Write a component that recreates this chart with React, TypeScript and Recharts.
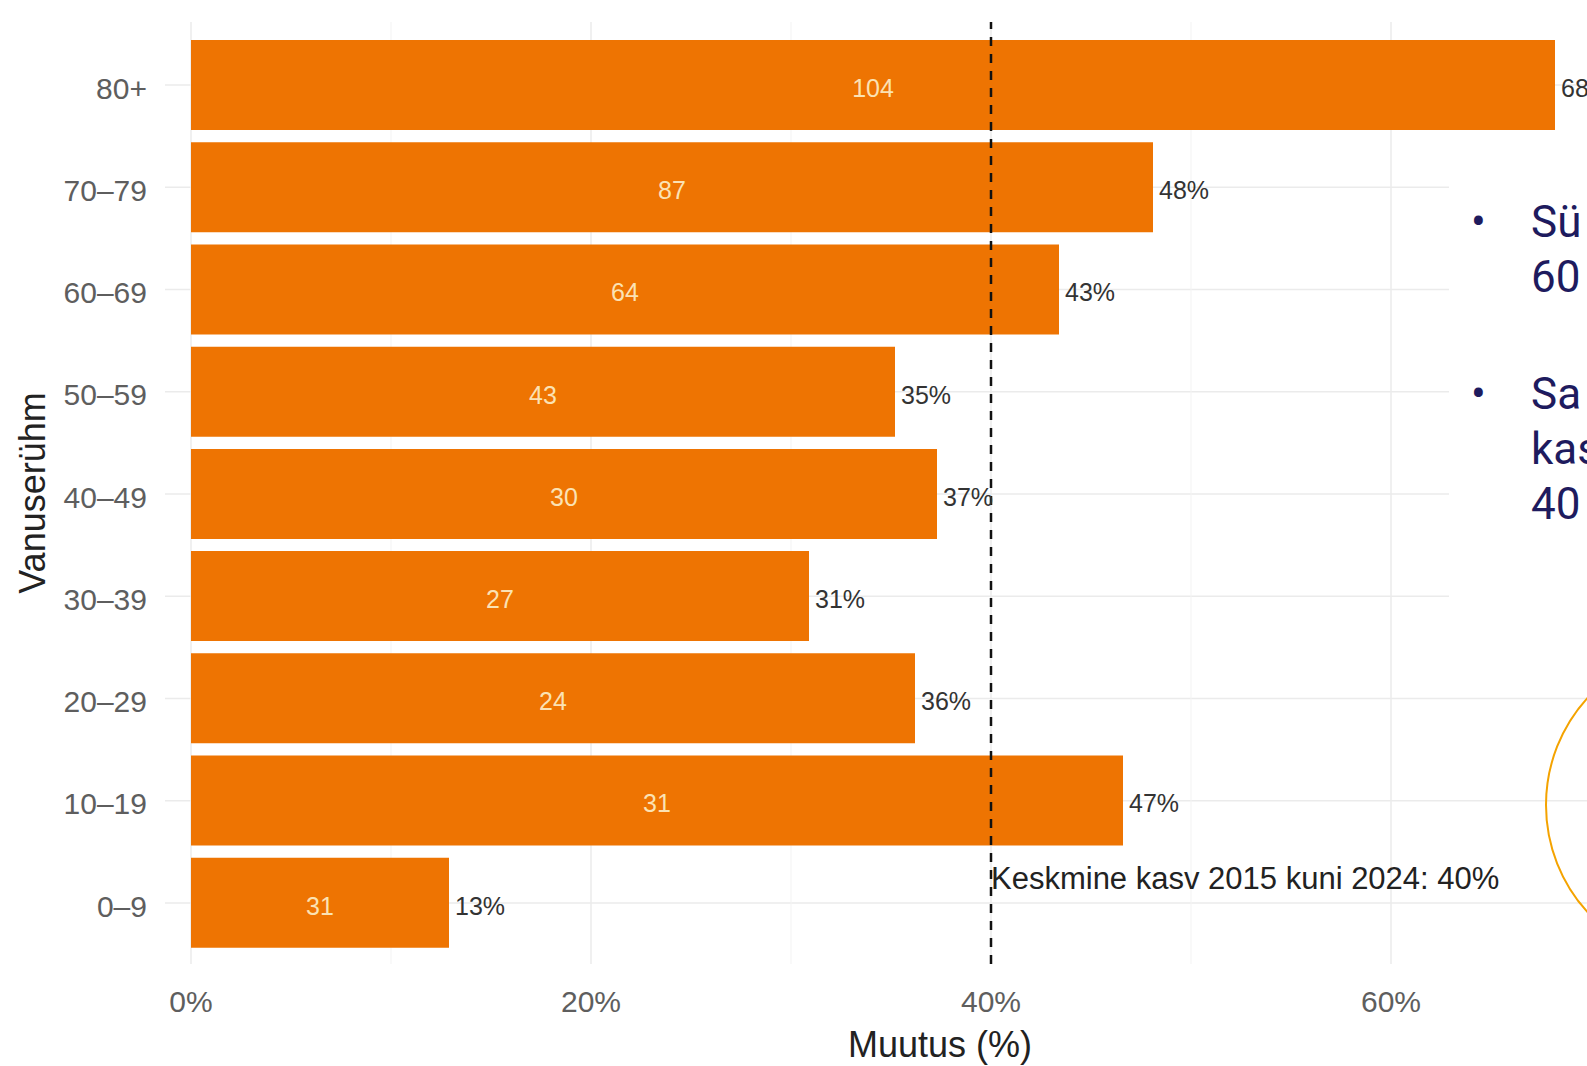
import React from 'react';
import { BarChart, Bar, XAxis, YAxis, CartesianGrid, ReferenceLine, LabelList, Label } from 'recharts';

// vanuserühmad ülevalt alla
const ageGroups = ['80+', '70–79', '60–69', '50–59', '40–49', '30–39', '20–29', '10–19', '0–9'];
const changePct = [68.2, 48.1, 43.4, 35.2, 37.3, 30.9, 36.2, 46.6, 12.9];
const counts = [104, 87, 64, 43, 30, 27, 24, 31, 31];
const majorTicks = [0, 20, 40, 60];
const minorTicks = [10, 30, 50, 70];
const averageGrowth = 40;
const averageLabel = 'Keskmine kasv 2015 kuni 2024: 40%';

const data = ageGroups.map((group, i) => ({ group, change: changePct[i], count: counts[i] }));

const FONT = '"Liberation Sans", Arial, sans-serif';
const ORANGE = '#EE7402';
const domain: [number, number] = [-1.3, 76.2];

const AverageLabel = (props: any) => {
  const { viewBox } = props;
  return (
    <text
      x={viewBox.x}
      y={viewBox.y + viewBox.height - 75}
      fill="#222"
      fontSize={31}
      fontFamily={FONT}
    >
      {averageLabel}
    </text>
  );
};

const bulletLine: React.CSSProperties = {
  position: 'absolute',
  fontFamily: 'Roboto, sans-serif',
  fontSize: 44,
  lineHeight: '55px',
  color: '#1E1B5E',
  whiteSpace: 'nowrap',
};

export default function App() {
  return (
    <div
      style={{
        position: 'fixed',
        left: 0,
        top: 0,
        width: 1587,
        height: 1066,
        overflow: 'hidden',
        background: '#fff',
        fontFamily: FONT,
      }}
    >
      <BarChart
        width={1720}
        height={1066}
        data={data}
        layout="vertical"
        margin={{ top: 22, right: 5, bottom: 0, left: 0 }}
      >
        <CartesianGrid stroke="#EBEBEB" strokeWidth={1.5} syncWithTicks />
        <CartesianGrid xAxisId="minor" horizontal={false} stroke="#F3F3F3" strokeWidth={1} syncWithTicks />
        <XAxis
          type="number"
          domain={domain}
          allowDataOverflow
          ticks={majorTicks}
          tickFormatter={(v: number) => `${v}%`}
          axisLine={false}
          tickLine={false}
          tickSize={0}
          tickMargin={27}
          height={102}
          tick={{ fill: '#5E5E5E', fontSize: 30, fontFamily: FONT }}
        >
          <Label value="Muutus (%)" position="insideBottom" offset={9} fill="#222" fontSize={36} fontFamily={FONT} />
        </XAxis>
        <XAxis xAxisId="minor" type="number" domain={domain} allowDataOverflow ticks={minorTicks} hide />
        <YAxis
          type="category"
          dataKey="group"
          width={165}
          axisLine={false}
          tickLine={false}
          tickSize={0}
          tickMargin={18}
          padding={{ top: 12, bottom: 10 }}
          tick={{ fill: '#5E5E5E', fontSize: 30, fontFamily: FONT, dy: 3 }}
        >
          <Label
            value="Vanuserühm"
            angle={-90}
            position="insideLeft"
            offset={32}
            fill="#222"
            fontSize={36}
            fontFamily={FONT}
            style={{ textAnchor: 'middle' }}
          />
        </YAxis>
        <Bar dataKey="change" fill={ORANGE} barSize={90} isAnimationActive={false}>
          <LabelList dataKey="count" position="center" fill="#FBE2B4" fontSize={25} fontFamily={FONT} dy={3} />
          <LabelList
            dataKey="change"
            position="right"
            offset={6}
            fill="#333"
            fontSize={25}
            fontFamily={FONT}
            dy={3}
            formatter={(v: any) => `${Math.round(Number(v))}%`}
          />
        </Bar>
        <ReferenceLine
          x={averageGrowth}
          stroke="#111"
          strokeWidth={2.5}
          strokeDasharray="9 8"
          label={AverageLabel}
        />
      </BarChart>

      {/* slaidi tekstikast paremal */}
      <div style={{ position: 'absolute', left: 1449, top: 135, width: 200, height: 510, background: '#fff' }}>
        <div style={{ ...bulletLine, left: 22, top: 60 }}>•</div>
        <div style={{ ...bulletLine, left: 82, top: 60 }}>Sü</div>
        <div style={{ ...bulletLine, left: 82, top: 115 }}>60</div>
        <div style={{ ...bulletLine, left: 22, top: 232 }}>•</div>
        <div style={{ ...bulletLine, left: 82, top: 232 }}>Sa</div>
        <div style={{ ...bulletLine, left: 82, top: 287 }}>kas</div>
        <div style={{ ...bulletLine, left: 82, top: 342 }}>40</div>
      </div>
      <div
        style={{
          position: 'absolute',
          left: 1545,
          top: 645,
          width: 320,
          height: 320,
          borderRadius: '50%',
          border: '2.5px solid #F4A300',
          boxSizing: 'border-box',
        }}
      />
    </div>
  );
}
